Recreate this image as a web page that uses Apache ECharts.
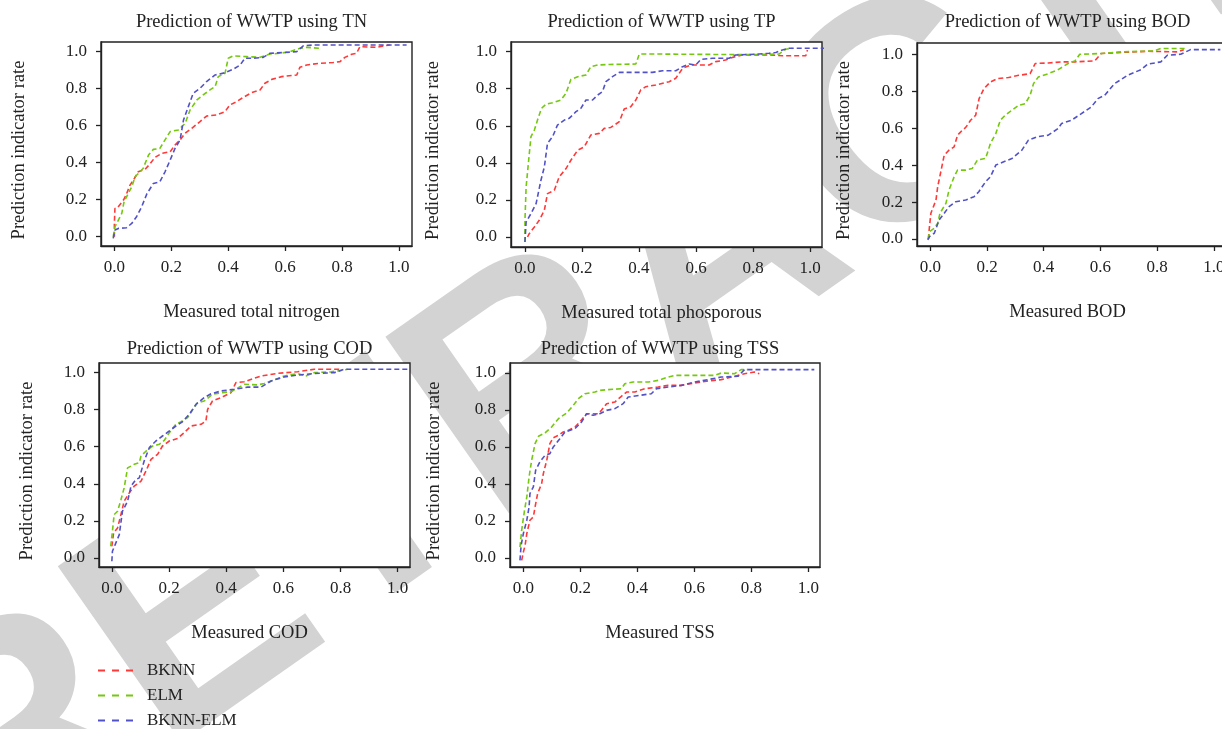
<!DOCTYPE html>
<html>
<head>
<meta charset="utf-8">
<title>Prediction of WWTP</title>
<script src="https://cdn.jsdelivr.net/npm/echarts@6/dist/echarts.min.js"></script>
<style>
	html, body { margin: 0; padding: 0; background: #fff; }
	#main { width: 1222px; height: 729px; }
</style>
</head>
<body>
<div id="main"></div>
<script>
// 图例名称
var seriesNames = ['BKNN', 'ELM', 'BKNN-ELM'];
// 每个小图的标题和x轴名称
var panelTitles = ['Prediction of WWTP using TN', 'Prediction of WWTP using TP', 'Prediction of WWTP using BOD',
	'Prediction of WWTP using COD', 'Prediction of WWTP using TSS'];
var xNames = ['Measured total nitrogen', 'Measured total phosporous', 'Measured BOD', 'Measured COD', 'Measured TSS'];
var yName = 'Prediction indicator rate';
var tickValues = [0, 0.2, 0.4, 0.6, 0.8, 1.0];

// TN
var tnBknn = [[0, 0], [0, 0.072], [0.002, 0.153], [0.011, 0.157], [0.032, 0.198], [0.041, 0.225], [0.055, 0.279], [0.067, 0.306],
	[0.084, 0.351], [0.108, 0.364], [0.125, 0.393], [0.143, 0.429], [0.166, 0.45], [0.196, 0.459], [0.213, 0.495], [0.231, 0.523],
	[0.248, 0.559], [0.272, 0.586], [0.301, 0.622], [0.324, 0.652], [0.359, 0.658], [0.389, 0.676], [0.406, 0.712], [0.43, 0.73],
	[0.453, 0.753], [0.482, 0.778], [0.512, 0.793], [0.529, 0.829], [0.553, 0.85], [0.588, 0.865], [0.641, 0.874], [0.652, 0.915],
	[0.676, 0.928], [0.722, 0.937], [0.769, 0.941], [0.793, 0.946], [0.81, 0.969], [0.834, 0.986], [0.851, 0.991], [0.863, 1.027],
	[0.922, 1.023], [0.945, 1.031], [0.968, 1.036]];
var tnElm = [[-0.004, 0], [0.002, 0.054], [0.014, 0.09], [0.026, 0.126], [0.034, 0.189], [0.049, 0.234], [0.061, 0.27], [0.073, 0.324],
	[0.09, 0.351], [0.101, 0.369], [0.12, 0.441], [0.137, 0.472], [0.16, 0.477], [0.178, 0.523], [0.196, 0.568], [0.225, 0.577],
	[0.249, 0.613], [0.266, 0.685], [0.29, 0.739], [0.312, 0.766], [0.336, 0.793], [0.354, 0.811], [0.365, 0.865], [0.389, 0.883],
	[0.4, 0.964], [0.418, 0.977], [0.465, 0.973], [0.512, 0.969], [0.547, 0.987], [0.582, 0.991], [0.617, 1.0], [0.652, 1.018],
	[0.676, 1.023], [0.722, 1.018]];
var tnBknnElm = [[-0.004, -0.009], [0.002, 0.036], [0.014, 0.045], [0.043, 0.049], [0.061, 0.072], [0.078, 0.108], [0.096, 0.162],
	[0.114, 0.231], [0.137, 0.288], [0.16, 0.297], [0.178, 0.351], [0.196, 0.414], [0.213, 0.477], [0.231, 0.523], [0.243, 0.631],
	[0.26, 0.703], [0.277, 0.775], [0.301, 0.802], [0.324, 0.838], [0.354, 0.874], [0.389, 0.886], [0.418, 0.905], [0.442, 0.928],
	[0.459, 0.964], [0.488, 0.964], [0.523, 0.969], [0.547, 0.991], [0.594, 0.995], [0.641, 1.0], [0.664, 1.031], [0.699, 1.036],
	[1.027, 1.036]];

// TP
var tpBknn = [[0.009, 0], [0.015, 0.018], [0.033, 0.054], [0.05, 0.09], [0.068, 0.144], [0.079, 0.234], [0.103, 0.252], [0.12, 0.324],
	[0.144, 0.369], [0.161, 0.414], [0.185, 0.468], [0.208, 0.486], [0.231, 0.55], [0.261, 0.559], [0.278, 0.586], [0.301, 0.591],
	[0.331, 0.622], [0.348, 0.69], [0.371, 0.703], [0.389, 0.739], [0.406, 0.793], [0.424, 0.811], [0.459, 0.82], [0.506, 0.838],
	[0.529, 0.856], [0.553, 0.91], [0.582, 0.928], [0.646, 0.928], [0.669, 0.946], [0.704, 0.955], [0.728, 0.969], [0.763, 0.982],
	[0.856, 0.982], [0.903, 0.978], [0.985, 0.978], [0.991, 1.009]];
var tpElm = [[0, -0.027], [0, 0.09], [0.004, 0.27], [0.013, 0.414], [0.021, 0.541], [0.033, 0.577], [0.044, 0.631], [0.058, 0.694],
	[0.074, 0.717], [0.097, 0.724], [0.126, 0.739], [0.144, 0.775], [0.161, 0.85], [0.185, 0.865], [0.214, 0.874], [0.231, 0.919],
	[0.255, 0.928], [0.296, 0.931], [0.389, 0.933], [0.401, 0.987], [0.471, 0.987], [0.739, 0.984], [0.786, 0.984], [0.891, 0.987],
	[0.915, 1.013], [0.938, 1.018]];
var tpBknnElm = [[0, -0.027], [0.004, 0.081], [0.021, 0.126], [0.039, 0.18], [0.056, 0.306], [0.068, 0.378], [0.079, 0.505],
	[0.097, 0.541], [0.114, 0.604], [0.138, 0.631], [0.155, 0.64], [0.179, 0.676], [0.196, 0.694], [0.214, 0.739], [0.237, 0.739],
	[0.255, 0.766], [0.272, 0.784], [0.284, 0.838], [0.307, 0.865], [0.331, 0.888], [0.447, 0.888], [0.483, 0.897], [0.529, 0.897],
	[0.553, 0.919], [0.576, 0.933], [0.599, 0.928], [0.617, 0.958], [0.658, 0.964], [0.716, 0.964], [0.739, 0.982], [0.821, 0.987],
	[0.856, 0.991], [0.88, 0.995], [0.903, 1.009], [0.926, 1.018], [1.049, 1.018]];

// BOD
var bodBknn = [[-0.007, 0], [-0.003, 0.067], [0.002, 0.139], [0.02, 0.211], [0.026, 0.283], [0.037, 0.364], [0.049, 0.454],
	[0.066, 0.481], [0.084, 0.499], [0.096, 0.562], [0.113, 0.589], [0.125, 0.604], [0.142, 0.643], [0.16, 0.67], [0.172, 0.76],
	[0.189, 0.814], [0.212, 0.85], [0.236, 0.868], [0.276, 0.874], [0.312, 0.886], [0.352, 0.895], [0.37, 0.95], [0.416, 0.953],
	[0.463, 0.959], [0.51, 0.959], [0.58, 0.964], [0.603, 1.004], [0.661, 1.009], [0.766, 1.016], [0.871, 1.013], [0.894, 1.025]];
var bodElm = [[-0.007, 0], [-0.003, 0.04], [0.014, 0.058], [0.026, 0.085], [0.034, 0.139], [0.055, 0.193], [0.066, 0.265],
	[0.084, 0.337], [0.096, 0.373], [0.125, 0.373], [0.148, 0.382], [0.166, 0.427], [0.195, 0.436], [0.212, 0.517], [0.231, 0.571],
	[0.247, 0.643], [0.264, 0.67], [0.288, 0.697], [0.312, 0.724], [0.335, 0.733], [0.352, 0.778], [0.364, 0.841], [0.381, 0.877],
	[0.416, 0.895], [0.451, 0.917], [0.486, 0.95], [0.51, 0.964], [0.527, 1.0], [0.603, 1.004], [0.673, 1.013], [0.79, 1.018],
	[0.813, 1.031], [0.906, 1.031]];
var bodBknnElm = [[-0.009, -0.005], [-0.003, 0.013], [0.014, 0.031], [0.031, 0.103], [0.049, 0.139], [0.066, 0.175], [0.09, 0.202],
	[0.125, 0.211], [0.154, 0.229], [0.171, 0.256], [0.195, 0.31], [0.212, 0.337], [0.231, 0.4], [0.259, 0.418], [0.288, 0.436],
	[0.323, 0.481], [0.346, 0.535], [0.376, 0.553], [0.416, 0.562], [0.451, 0.598], [0.463, 0.625], [0.498, 0.643], [0.533, 0.679],
	[0.568, 0.715], [0.591, 0.76], [0.615, 0.778], [0.65, 0.841], [0.696, 0.886], [0.743, 0.917], [0.766, 0.946], [0.813, 0.959],
	[0.836, 0.995], [0.883, 1.0], [0.918, 1.025], [1.023, 1.025]];

// COD
var codBknn = [[0, 0.063], [0.006, 0.135], [0.02, 0.162], [0.029, 0.216], [0.043, 0.306], [0.061, 0.351], [0.078, 0.387], [0.102, 0.414],
	[0.119, 0.468], [0.137, 0.532], [0.16, 0.559], [0.177, 0.604], [0.201, 0.631], [0.23, 0.645], [0.253, 0.676], [0.277, 0.712],
	[0.312, 0.721], [0.329, 0.739], [0.335, 0.802], [0.352, 0.847], [0.382, 0.865], [0.417, 0.892], [0.434, 0.946], [0.463, 0.951],
	[0.522, 0.982], [0.58, 0.996], [0.65, 1.005], [0.708, 1.018], [0.802, 1.018]];
var codElm = [[-0.004, 0.063], [0.002, 0.144], [0.008, 0.234], [0.02, 0.252], [0.032, 0.315], [0.043, 0.378], [0.055, 0.486],
	[0.078, 0.505], [0.096, 0.514], [0.102, 0.55], [0.12, 0.577], [0.143, 0.604], [0.166, 0.613], [0.183, 0.634], [0.201, 0.676],
	[0.224, 0.721], [0.242, 0.735], [0.265, 0.757], [0.288, 0.811], [0.3, 0.838], [0.323, 0.847], [0.352, 0.883], [0.387, 0.892],
	[0.417, 0.897], [0.463, 0.937], [0.51, 0.934], [0.533, 0.941], [0.603, 0.982], [0.65, 0.995], [0.679, 0.982], [0.708, 1.0],
	[0.767, 1.004], [0.825, 1.018]];
var codBknnElm = [[0, -0.018], [0.002, 0.036], [0.014, 0.081], [0.026, 0.126], [0.037, 0.252], [0.055, 0.306], [0.067, 0.387],
	[0.084, 0.423], [0.096, 0.432], [0.113, 0.523], [0.131, 0.595], [0.154, 0.631], [0.177, 0.658], [0.201, 0.685], [0.224, 0.712],
	[0.247, 0.735], [0.271, 0.775], [0.294, 0.829], [0.323, 0.865], [0.347, 0.886], [0.382, 0.901], [0.428, 0.91], [0.475, 0.922],
	[0.522, 0.922], [0.557, 0.955], [0.603, 0.977], [0.65, 0.987], [0.708, 0.995], [0.778, 1.0], [0.813, 1.018], [1.035, 1.018]];

// TSS
var tssBknn = [[-0.006, -0.013], [0, 0.032], [0.006, 0.068], [0.012, 0.132], [0.023, 0.204], [0.035, 0.222], [0.041, 0.276],
	[0.05, 0.348], [0.064, 0.402], [0.07, 0.456], [0.082, 0.528], [0.093, 0.618], [0.105, 0.65], [0.123, 0.663], [0.14, 0.681],
	[0.158, 0.69], [0.181, 0.708], [0.198, 0.735], [0.222, 0.78], [0.263, 0.78], [0.274, 0.798], [0.292, 0.834], [0.321, 0.843],
	[0.344, 0.874], [0.362, 0.897], [0.391, 0.897], [0.426, 0.915], [0.473, 0.924], [0.508, 0.933], [0.554, 0.933], [0.601, 0.946],
	[0.648, 0.957], [0.694, 0.964], [0.741, 0.982], [0.776, 0.996], [0.811, 1.005], [0.828, 0.996]];
var tssElm = [[-0.012, 0.059], [-0.006, 0.15], [0.004, 0.258], [0.012, 0.33], [0.02, 0.438], [0.029, 0.528], [0.041, 0.618],
	[0.053, 0.658], [0.076, 0.676], [0.099, 0.708], [0.123, 0.753], [0.152, 0.784], [0.175, 0.825], [0.193, 0.861], [0.216, 0.888],
	[0.251, 0.897], [0.268, 0.906], [0.298, 0.91], [0.344, 0.915], [0.356, 0.942], [0.385, 0.951], [0.438, 0.951], [0.473, 0.96],
	[0.508, 0.978], [0.531, 0.987], [0.671, 0.987], [0.695, 1.0], [0.741, 0.996], [0.764, 1.018], [0.788, 1.018]];
var tssBknnElm = [[-0.012, -0.013], [-0.008, 0.068], [0, 0.132], [0.012, 0.204], [0.02, 0.276], [0.023, 0.348], [0.035, 0.384],
	[0.043, 0.474], [0.058, 0.519], [0.076, 0.555], [0.093, 0.564], [0.105, 0.6], [0.128, 0.645], [0.146, 0.681], [0.181, 0.699],
	[0.204, 0.735], [0.222, 0.78], [0.245, 0.771], [0.268, 0.78], [0.292, 0.798], [0.321, 0.807], [0.35, 0.834], [0.368, 0.87],
	[0.408, 0.879], [0.449, 0.888], [0.467, 0.915], [0.508, 0.924], [0.554, 0.933], [0.601, 0.951], [0.648, 0.964], [0.694, 0.978],
	[0.753, 0.982], [0.776, 1.018], [0.823, 1.018], [1.021, 1.018]];

var panelData = [
	[tnBknn, tnElm, tnBknnElm],
	[tpBknn, tpElm, tpBknnElm],
	[bodBknn, bodElm, bodBknnElm],
	[codBknn, codElm, codBknnElm],
	[tssBknn, tssElm, tssBknnElm]
];

// 布局: 每个小图的框 (像素) 和坐标范围, BOD 的框超出右边
var panelBox = [
	{ left: 101, top: 42, right: 810, height: 204, xMin: -0.047, xMax: 1.046, yMin: -0.05, yMax: 1.052, yGap: 72, tGap: 29 },
	{ left: 511, top: 42, right: 400, height: 205, xMin: -0.049, xMax: 1.042, yMin: -0.054, yMax: 1.052, yGap: 68, tGap: 29 },
	{ left: 917, top: 43, right: -6, height: 203, xMin: -0.047, xMax: 1.05, yMin: -0.038, yMax: 1.061, yGap: 63, tGap: 30 },
	{ left: 99, top: 363, right: 812, height: 204, xMin: -0.045, xMax: 1.043, yMin: -0.049, yMax: 1.052, yGap: 62, tGap: 23 },
	{ left: 510, top: 363, right: 402, height: 204, xMin: -0.047, xMax: 1.041, yMin: -0.049, yMax: 1.054, yGap: 66, tGap: 23 }
];
var colors = ['#ff3838', '#74c80e', '#5252c8'];
var fontFamily = '"Liberation Serif", "DejaVu Serif", serif';
var textColor = '#222';
// 图例的虚线图标
var dashIcon = 'path://M0,0H7V2H0Z M14,0H21V2H14Z M28,0H35V2H28Z';

var _buildOption = function() {
	var grids = [], xAxes = [], yAxes = [], titles = [], series = [];
	for(var i = 0; i < panelBox.length; i++) {
		var b = panelBox[i];
		var w = 1222 - b.left - b.right;
		grids.push({
			left: b.left, top: b.top, right: b.right, height: b.height,
			outerBoundsMode: 'none', containLabel: false,
			show: true, borderColor: textColor, borderWidth: 1.4, backgroundColor: '#fff'
		});
		titles.push({
			text: panelTitles[i],
			left: b.left + w / 2 - 5,
			top: b.top - b.tGap,
			textAlign: 'center',
			padding: 0,
			textStyle: { fontFamily: fontFamily, fontSize: 18.5, fontWeight: 'normal', color: textColor }
		});
		xAxes.push({
			type: 'value', gridIndex: i, min: b.xMin, max: b.xMax,
			splitLine: { show: false },
			axisLine: { show: true, onZero: false, lineStyle: { color: textColor, width: 1.4 } },
			axisTick: { show: true, inside: false, customValues: tickValues, length: 5, lineStyle: { color: textColor, width: 1.3 } },
			axisLabel: {
				customValues: tickValues, margin: 13, color: textColor, fontFamily: fontFamily, fontSize: 17,
				formatter: function(v) { return v.toFixed(1); }
			},
			name: xNames[i], nameLocation: 'middle', nameGap: 57,
			nameTextStyle: { fontFamily: fontFamily, fontSize: 18.5, color: textColor, padding: [0, 10, 0, 0] }
		});
		yAxes.push({
			type: 'value', gridIndex: i, min: b.yMin, max: b.yMax,
			splitLine: { show: false },
			axisLine: { show: true, onZero: false, lineStyle: { color: textColor, width: 1.4 } },
			axisTick: { show: true, inside: false, customValues: tickValues, length: 5, lineStyle: { color: textColor, width: 1.3 } },
			axisLabel: {
				customValues: tickValues, margin: 14, color: textColor, fontFamily: fontFamily, fontSize: 17,
				formatter: function(v) { return v.toFixed(1); }
			},
			name: yName, nameLocation: 'middle', nameGap: b.yGap, nameRotate: 90,
			nameTextStyle: { fontFamily: fontFamily, fontSize: 18.5, color: textColor, padding: [0, 12, 0, 0] }
		});
		for(var j = 0; j < seriesNames.length; j++) {
			series.push({
				name: seriesNames[j], type: 'line', xAxisIndex: i, yAxisIndex: i,
				data: panelData[i][j],
				symbol: 'none', showSymbol: false, clip: false,
				lineStyle: { color: colors[j], width: 1.6, type: [5, 3] },
				itemStyle: { color: colors[j] },
				z: 3
			});
		}
	}
	return {
		backgroundColor: '#fff',
		animation: false,
		title: titles,
		grid: grids,
		xAxis: xAxes,
		yAxis: yAxes,
		legend: {
			data: seriesNames, orient: 'vertical', left: 98, top: 662, height: 100, padding: 0,
			icon: dashIcon, itemWidth: 35, itemHeight: 12, itemGap: 8,
			textStyle: { fontFamily: fontFamily, fontSize: 17, color: textColor, lineHeight: 17, padding: [0, 0, 0, 9] }
		},
		graphic: [{
			type: 'text', silent: true, z: -10,
			x: 720, y: 260, rotation: 35 * Math.PI / 180,
			style: {
				text: 'RETRACTED', fill: '#d3d3d3',
				font: 'bold 313px "Liberation Sans", sans-serif',
				align: 'center', verticalAlign: 'middle',
				textAlign: 'center', textVerticalAlign: 'middle'
			}
		}],
		series: series
	};
}

var chart = echarts.init(document.getElementById('main'));
chart.setOption(_buildOption());
</script>
</body>
</html>
